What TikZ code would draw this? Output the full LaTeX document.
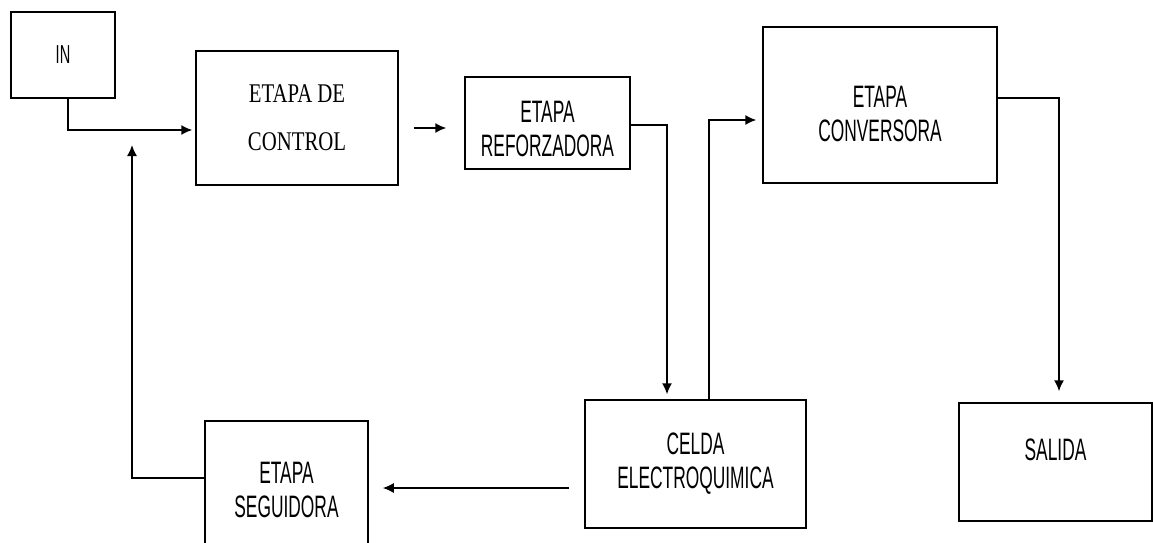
\documentclass[tikz,border=0pt]{standalone}
\usepackage{fontspec}
\usetikzlibrary{arrows.meta,positioning}
\newfontfamily\blockfont[FakeStretch=0.56]{Liberation Sans}
\newfontfamily\ctrlfont[FakeStretch=0.77]{Liberation Serif}

\begin{document}
\begin{tikzpicture}[
  x=1pt,y=-1pt,
  block/.style={rectangle,draw=black,fill=white,line width=1.5pt,inner sep=0pt,align=center,
    font=\blockfont\fontsize{31}{34}\selectfont},
  arrow/.style={-{Latex[length=11pt,width=10pt]},draw=black,line width=1.5pt}
]
\useasboundingbox (0,0) rectangle (1153,543);
\clip (0,0) rectangle (1153,543);
\node[block,minimum width=104pt,minimum height=86pt,font=\blockfont\fontsize{26}{30}\selectfont] (in) at (63,55) {IN};
\node[block,minimum width=202pt,minimum height=134pt,font=\ctrlfont\fontsize{27}{48}\selectfont] (ctrl) at (297,118) {ETAPA DE\\CONTROL};
\node[block,minimum width=165pt,minimum height=92pt] (refo) at (547.5,123) {\rule{0pt}{34pt}ETAPA\\REFORZADORA};
\node[block,minimum width=234pt,minimum height=156pt] (conv) at (880,105) {\rule{0pt}{40pt}ETAPA\\CONVERSORA};
\node[block,minimum width=221pt,minimum height=128pt] (celda) at (695.5,464) {CELDA\\ELECTROQUIMICA};
\node[block,minimum width=163pt,minimum height=138pt] (segu) at (286.5,490) {ETAPA\\SEGUIDORA};
\node[block,minimum width=193pt,minimum height=118pt] (salida) at (1055.5,462) {SALIDA\rule[-24pt]{0pt}{24pt}};
\coordinate (fb) at (132,145);
\draw[arrow] ([xshift=5pt]in.south) |- ([xshift=-3pt,yshift=-12pt]ctrl.west);
\draw[arrow] ([xshift=15pt,yshift=-10pt]ctrl.east) -- ([xshift=-18pt,yshift=-5pt]refo.west);
\draw[arrow] ([yshift=-2pt]refo.east) -| ([xshift=-28.5pt,yshift=5pt]celda.north);
\draw[arrow] ([xshift=13.5pt]celda.north) |- ([xshift=-6pt,yshift=-15pt]conv.west);
\draw[arrow] ([yshift=7pt]conv.east) -| ([xshift=3.5pt,yshift=11pt]salida.north);
\draw[arrow] ([xshift=-15pt,yshift=-24pt]celda.west) -- ([xshift=14pt,yshift=2pt]segu.east);
\draw[arrow] ([yshift=12pt]segu.west) -| (fb);
\end{tikzpicture}
\end{document}
